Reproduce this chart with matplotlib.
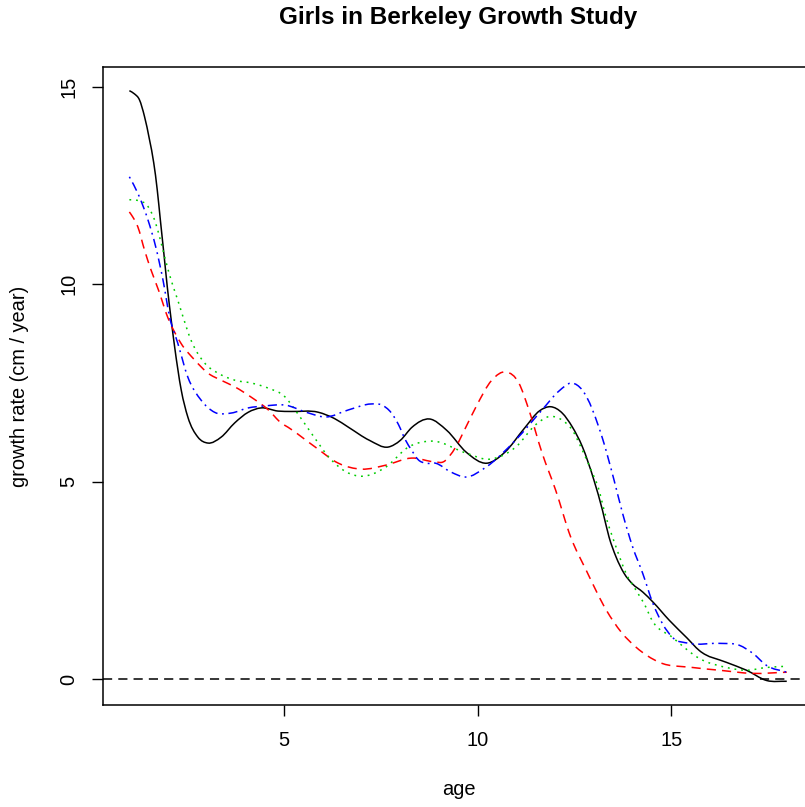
import matplotlib
matplotlib.use("Agg")
import numpy as np
import matplotlib.pyplot as plt
from matplotlib.path import Path
from matplotlib.patches import PathPatch

plt.rcParams['font.family'] = ['Liberation Sans', 'DejaVu Sans']

# growth velocity curves for four girls (cm / year)
age_a = [1.0, 1.13, 1.26, 1.39, 1.52, 1.63, 1.72, 1.80, 1.89, 1.98, 2.08, 2.17, 2.34, 2.51, 2.77,
         3.03, 3.37, 3.72, 4.07, 4.4, 4.84, 5.18, 5.88, 6.3, 6.66, 7.2, 7.69, 8.0, 8.3, 8.75, 9.2,
         9.7, 10.23, 10.7, 11.2, 11.6, 11.88, 12.18, 12.44, 12.7, 13.0, 13.22, 13.39, 13.57,
         13.78, 13.99, 14.26, 14.52, 14.95, 15.4, 15.72, 16.42, 16.94, 17.46, 17.98]
rate_a = [14.9, 14.82, 14.67, 14.25, 13.66, 13.07, 12.39, 11.63, 10.79, 9.93, 9.1, 8.41, 7.32,
          6.64, 6.13, 5.98, 6.13, 6.49, 6.76, 6.87, 6.79, 6.78, 6.76, 6.6, 6.38, 6.05, 5.88, 6.05,
          6.38, 6.59, 6.3, 5.75, 5.47, 5.75, 6.35, 6.8, 6.9, 6.74, 6.39, 5.89, 5.04, 4.28, 3.6,
          3.1, 2.68, 2.42, 2.21, 1.96, 1.49, 1.05, 0.73, 0.43, 0.23, -0.03, -0.05]

age_b = [1.0, 1.09, 1.22, 1.39, 1.56, 1.78, 1.95, 2.33, 2.69, 3.03, 3.37, 3.73, 4.15, 4.59, 4.92,
         5.1, 5.8, 6.4, 7.0, 7.62, 8.29, 8.91, 9.1, 9.43, 9.7, 9.95, 10.36, 10.73, 11.06, 11.32,
         11.66, 12.01, 12.4, 12.8, 13.32, 13.7, 14.09, 14.69, 15.54, 16.24, 17.1, 17.98]
rate_b = [11.83, 11.7, 11.45, 10.87, 10.36, 9.78, 9.27, 8.51, 8.08, 7.75, 7.57, 7.4, 7.14, 6.82,
          6.49, 6.38, 5.88, 5.47, 5.32, 5.42, 5.6, 5.5, 5.5, 5.88, 6.4, 6.89, 7.57, 7.78, 7.5,
          6.82, 5.73, 4.79, 3.6, 2.76, 1.75, 1.2, 0.81, 0.43, 0.3, 0.23, 0.15, 0.18]

age_c = [1.0, 1.22, 1.48, 1.65, 1.78, 1.91, 2.08, 2.25, 2.33, 2.59, 2.95, 3.29, 3.73, 4.15, 4.59,
         5.03, 5.28, 5.7, 6.22, 6.6, 7.0, 7.62, 8.21, 8.81, 9.69, 10.28, 10.98, 11.5, 11.84, 12.18,
         12.44, 12.7, 12.96, 13.09, 13.31, 13.57, 13.83, 14.09, 14.34, 14.47, 15.03, 15.72, 16.42,
         16.94, 17.46, 17.98]
rate_c = [12.14, 12.12, 11.97, 11.63, 11.2, 10.7, 10.1, 9.6, 9.35, 8.59, 8.0, 7.75, 7.57, 7.5,
          7.37, 7.14, 6.82, 6.23, 5.55, 5.25, 5.14, 5.37, 5.88, 6.03, 5.73, 5.57, 5.88, 6.45, 6.65,
          6.56, 6.31, 5.8, 5.22, 4.92, 4.11, 3.35, 2.68, 2.25, 1.83, 1.55, 1.06, 0.53, 0.3, 0.23,
          0.3, 0.33]

age_d = [1.0, 1.22, 1.48, 1.68, 1.87, 2.04, 2.25, 2.51, 2.85, 3.2, 3.63, 4.07, 4.5, 5.03, 5.6,
         6.06, 6.66, 7.25, 7.5, 7.77, 7.95, 8.13, 8.29, 8.47, 8.65, 8.91, 9.3, 9.69, 10.21, 10.98,
         11.66, 12.1, 12.43, 12.7, 13.21, 13.52, 13.74, 14.0, 14.26, 14.52, 15.03, 15.47, 16.24,
         16.76, 17.1, 17.46, 17.98]
rate_d = [12.72, 12.3, 11.63, 10.95, 10.1, 9.17, 8.51, 7.65, 7.07, 6.76, 6.74, 6.87, 6.92, 6.94,
          6.75, 6.64, 6.82, 6.97, 6.95, 6.74, 6.45, 6.06, 5.8, 5.55, 5.47, 5.47, 5.25, 5.12, 5.37,
          6.06, 6.82, 7.3, 7.5, 7.32, 6.13, 5.04, 4.2, 3.35, 2.68, 1.93, 1.06, 0.91, 0.91, 0.86,
          0.66, 0.35, 0.18]


def smooth_path(x, y):
    # cubic bezier pieces through every point, tangents from neighbouring slopes
    x = np.asarray(x, float)
    y = np.asarray(y, float)
    h = np.diff(x)
    d = np.diff(y) / h
    m = np.empty_like(y)
    m[0] = d[0]
    m[-1] = d[-1]
    m[1:-1] = (d[1:] * h[:-1] + d[:-1] * h[1:]) / (h[:-1] + h[1:])
    verts = [(x[0], y[0])]
    codes = [Path.MOVETO]
    for i in range(len(h)):
        verts.append((x[i] + h[i] / 3, y[i] + m[i] * h[i] / 3))
        verts.append((x[i + 1] - h[i] / 3, y[i + 1] - m[i + 1] * h[i] / 3))
        verts.append((x[i + 1], y[i + 1]))
        codes += [Path.CURVE4] * 3
    return Path(verts, codes)


fig = plt.figure(figsize=(8.05, 8.07), dpi=100)
ax = fig.add_axes([0.128, 0.1264, 0.883, 0.7906])

curves = [
    (age_a, rate_a, 'black', '-'),
    (age_b, rate_b, '#FF0000', (0, (6, 4))),
    (age_c, rate_c, '#00CD00', (0, (1.2, 3.2))),
    (age_d, rate_d, '#0000FF', (0, (1.2, 3, 6, 3))),
]
for xs, ys, col, ls in curves:
    ax.add_patch(PathPatch(smooth_path(xs, ys), fill=False, edgecolor=col,
                           lw=1.1, linestyle=ls, capstyle='butt'))
ax.axhline(0, color='black', lw=1.1, dashes=(6, 4))

ax.set_xlim(0.32, 18.68)
ax.set_ylim(-0.65, 15.5)
ax.set_xticks([5, 10, 15])
ax.set_yticks([0, 5, 10, 15])
ax.tick_params(axis='both', length=8, width=1, labelsize=14.4, direction='out')
ax.tick_params(axis='x', pad=11)
ax.tick_params(axis='y', pad=10)
for lab in ax.get_yticklabels():
    lab.set_rotation(90)
    lab.set_va('center')
for s in ax.spines.values():
    s.set_linewidth(1.1)

ax.set_xlabel('age', fontsize=14.4, va='center')
ax.xaxis.set_label_coords(0.5, -0.133)
ax.set_ylabel('growth rate (cm / year)', fontsize=14.4, va='center')
ax.yaxis.set_label_coords(-0.117, 0.5)

fig.text(0.569, 0.978, 'Girls in Berkeley Growth Study', fontsize=17.5,
         fontweight='bold', ha='center', va='center')

fig.savefig('out.png', dpi=100)
